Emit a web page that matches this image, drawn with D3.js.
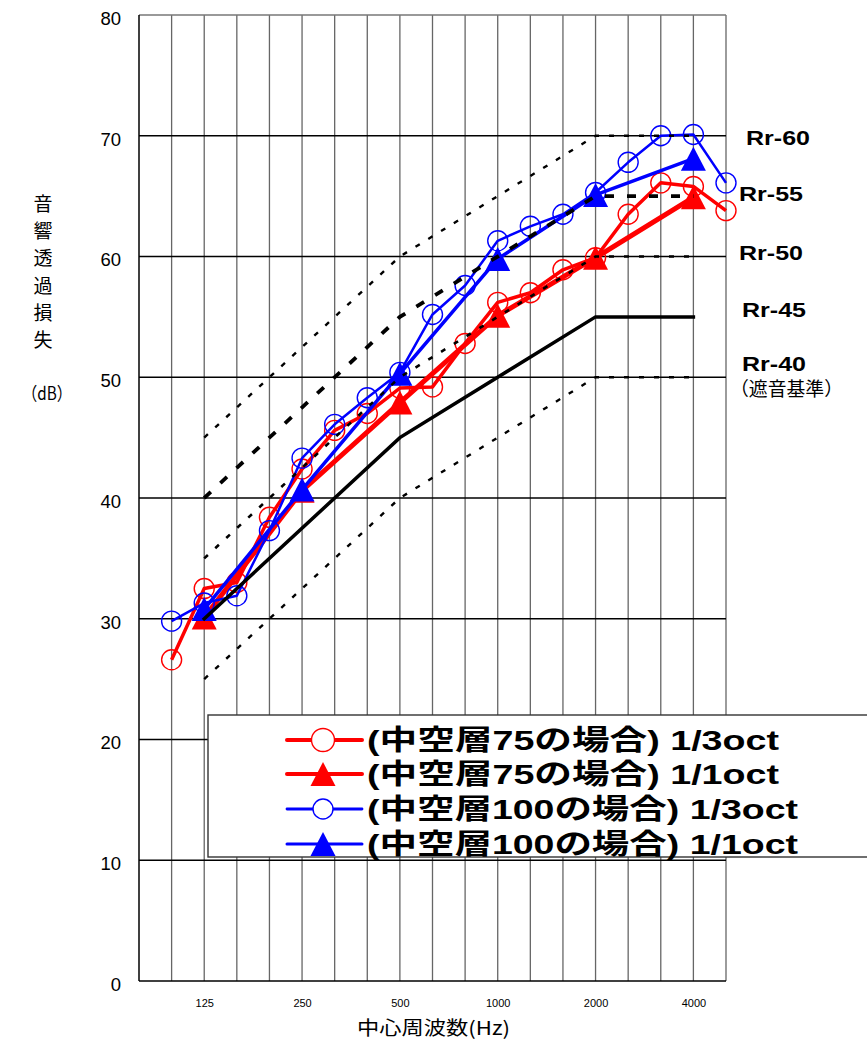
<!DOCTYPE html>
<html>
<head>
<meta charset="utf-8">
<script src="https://cdn.jsdelivr.net/npm/d3@7"></script>
<style>
  body { margin: 0; background: #fff; }
  svg { display: block; }
</style>
</head>
<body>
<div id="chart"></div>
<script>
// 1/3 octave bands (80 is only the left edge of the grid)
const gridBands = ['80', '100', '125', '160', '200', '250', '315', '400', '500', '630', '800', '1000', '1250', '1600', '2000', '2500', '3150', '4000', '5000'];
const bands13 = ['100', '125', '160', '200', '250', '315', '400', '500', '630', '800', '1000', '1250', '1600', '2000', '2500', '3150', '4000', '5000'];
const bands11 = ['125', '250', '500', '1000', '2000', '4000'];
const xTickLabels = ['125', '250', '500', '1000', '2000', '4000'];
const yTicks = [0, 10, 20, 30, 40, 50, 60, 70, 80];

const red13 = [26.6, 32.5, 33.0, 38.4, 42.4, 45.6, 47.0, 49.1, 49.2, 52.8, 56.2, 57.0, 58.9, 59.9, 63.5, 66.1, 65.8, 63.8];
const red11 = [30.1, 40.6, 47.9, 55.1, 59.9, 64.9];
const blue13 = [29.8, 31.3, 31.9, 37.3, 43.3, 46.1, 48.3, 50.4, 55.2, 57.6, 61.3, 62.5, 63.5, 65.3, 67.8, 70.0, 70.1, 66.1];
const blue11 = [30.8, 40.7, 50.3, 59.8, 65.1, 68.1];

// reference curves
const rrBands = ['125', '500', '2000', '4000'];
const rr40 = [25, 40, 50, 50];
const rr45 = [30, 45, 55, 55];
const rr50 = [35, 50, 60, 60];
const rr55 = [40, 55, 65, 65];
const rr60 = [45, 60, 70, 70];
const rrNames = ['Rr-60', 'Rr-55', 'Rr-50', 'Rr-45', 'Rr-40'];

const legendLabels = ['(中空層75の場合) 1/3oct', '(中空層75の場合) 1/1oct', '(中空層100の場合) 1/3oct', '(中空層100の場合) 1/1oct'];

const W = 867, H = 1042;
const jp = '"Noto Sans CJK JP", "Noto Sans", sans-serif';

const svg = d3.select('#chart').append('svg')
        .attr('width', W)
        .attr('height', H);

const x = d3.scalePoint().domain(gridBands).range([139, 726]);
const y = d3.scaleLinear().domain([0, 80]).range([981, 15]);

// grid
svg.append('g').selectAll('line')
        .data(gridBands.slice(1))
        .join('line')
        .attr('x1', d => x(d)).attr('x2', d => x(d))
        .attr('y1', y(80)).attr('y2', y(0))
        .attr('stroke', '#666').attr('stroke-width', 1.3);

svg.append('g').selectAll('line')
        .data(yTicks.filter(d => d > 0 && d < 80))
        .join('line')
        .attr('x1', 139).attr('x2', 726)
        .attr('y1', d => y(d)).attr('y2', d => y(d))
        .attr('stroke', '#000').attr('stroke-width', 1.4);

// top border
svg.append('line')
        .attr('x1', 139).attr('x2', 726)
        .attr('y1', y(80)).attr('y2', y(80))
        .attr('stroke', '#777').attr('stroke-width', 1.5);

// axes lines
svg.append('line')
        .attr('x1', 139).attr('x2', 139)
        .attr('y1', y(80)).attr('y2', y(0))
        .attr('stroke', '#000').attr('stroke-width', 1.5);
svg.append('line')
        .attr('x1', 139).attr('x2', 726)
        .attr('y1', y(0)).attr('y2', y(0))
        .attr('stroke', '#000').attr('stroke-width', 1.5);

// tick labels
const yAxis = svg.append('g')
        .attr('transform', 'translate(139,0)')
        .call(d3.axisLeft(y).tickValues(yTicks).tickSize(0).tickPadding(18));
yAxis.select('.domain').remove();
yAxis.selectAll('text')
        .attr('font-family', '"Liberation Sans", Arial, sans-serif')
        .attr('font-size', 18.5)
        .attr('fill', '#000')
        .attr('dy', '0.5em');

const xAxis = svg.append('g')
        .attr('transform', `translate(0,${y(0)})`)
        .call(d3.axisBottom(x).tickValues(xTickLabels).tickSize(0).tickPadding(18));
xAxis.select('.domain').remove();
xAxis.selectAll('text')
        .attr('font-family', '"Liberation Sans Narrow", "Liberation Sans", Arial, sans-serif')
        .attr('font-size', 11)
        .attr('fill', '#000');

// axis titles
svg.append('text')
        .attr('x', 357).attr('y', 1035)
        .attr('font-family', jp).attr('font-size', 19)
        .attr('textLength', 153)
        .attr('lengthAdjust', 'spacingAndGlyphs')
        .text('中心周波数(Hz)');

const yTitle = '音響透過損失'.split('');
svg.append('g').selectAll('text')
        .data(yTitle)
        .join('text')
        .attr('x', 43)
        .attr('y', (d, i) => 211 + i * 27.2)
        .attr('text-anchor', 'middle')
        .attr('font-family', jp).attr('font-size', 19)
        .text(d => d);
svg.append('text')
        .attr('x', 22).attr('y', 400)
        .attr('font-family', jp).attr('font-size', 18)
        .attr('textLength', 50)
        .attr('lengthAdjust', 'spacingAndGlyphs')
        .text('（dB）');

// data series
const lineGen = (bands) => d3.line()
        .x((d, i) => x(bands[i]))
        .y(d => y(d));

const series = [
        { values: red13, bands: bands13, color: '#ff0000', width: 3.5, marker: 'circle' },
        { values: red11, bands: bands11, color: '#ff0000', width: 5, marker: 'triangle' },
        { values: blue13, bands: bands13, color: '#0000ff', width: 2.5, marker: 'circle' },
        { values: blue11, bands: bands11, color: '#0000ff', width: 3.5, marker: 'triangle' }
];

const triPath = 'M0,-12L12.5,12L-12.5,12Z';

series.forEach(s => {
        svg.append('path')
                .attr('d', lineGen(s.bands)(s.values))
                .attr('fill', 'none')
                .attr('stroke', s.color)
                .attr('stroke-width', s.width)
                .attr('stroke-linejoin', 'round');
        const g = svg.append('g');
        if (s.marker === 'circle') {
                g.selectAll('circle')
                        .data(s.values)
                        .join('circle')
                        .attr('cx', (d, i) => x(s.bands[i]))
                        .attr('cy', d => y(d))
                        .attr('r', 10)
                        .attr('fill', 'none')
                        .attr('stroke', s.color)
                        .attr('stroke-width', 1.4);
        } else {
                g.selectAll('path')
                        .data(s.values)
                        .join('path')
                        .attr('transform', (d, i) => `translate(${x(s.bands[i])},${y(d)})`)
                        .attr('d', triPath)
                        .attr('fill', s.color);
        }
});

// reference curves on top
const rrLine = d3.line()
        .x((d, i) => x(rrBands[i]))
        .y(d => y(d));

const rrStyles = [
        { values: rr40, width: 2.4, dash: '5,10' },
        { values: rr45, width: 3.5, dash: null },
        { values: rr50, width: 2.6, dash: '5,10' },
        { values: rr55, width: 3.8, dash: '9,13' },
        { values: rr60, width: 2.4, dash: '5,10' }
];
rrStyles.forEach(r => {
        svg.append('path')
                .attr('d', rrLine(r.values))
                .attr('fill', 'none')
                .attr('stroke', '#000')
                .attr('stroke-width', r.width)
                .attr('stroke-dasharray', r.dash)
                .attr('stroke-linecap', r.dash ? 'butt' : 'square');
});

// right labels
const rrLabelPos = [[746, 145], [739, 201], [739, 260], [742, 317], [742, 371]];
svg.append('g').selectAll('text')
        .data(rrNames)
        .join('text')
        .attr('x', (d, i) => rrLabelPos[i][0])
        .attr('y', (d, i) => rrLabelPos[i][1])
        .attr('font-family', '"Liberation Sans", Arial, sans-serif')
        .attr('font-weight', 'bold')
        .attr('font-size', 20)
        .attr('textLength', 64)
        .attr('lengthAdjust', 'spacingAndGlyphs')
        .text(d => d);
svg.append('text')
        .attr('x', 730).attr('y', 396)
        .attr('font-family', jp).attr('font-size', 19)
        .attr('textLength', 113)
        .attr('lengthAdjust', 'spacingAndGlyphs')
        .text('（遮音基準）');

// legend
const legend = svg.append('g');
legend.append('rect')
        .attr('x', 208).attr('y', 715)
        .attr('width', 720).attr('height', 142)
        .attr('fill', '#fff')
        .attr('stroke', '#333')
        .attr('stroke-width', 1.4);

const rowY = [740, 774, 809, 844];
const textW = [412, 412, 431, 431];
series.forEach((s, i) => {
        const ly = rowY[i];
        legend.append('line')
                .attr('x1', 287).attr('x2', 362)
                .attr('y1', ly).attr('y2', ly)
                .attr('stroke', s.color)
                .attr('stroke-width', s.marker === 'circle' ? (i === 0 ? 4 : 2.8) : (i === 1 ? 4 : 3))
                .attr('stroke-linecap', 'round');
        if (s.marker === 'circle') {
                legend.append('circle')
                        .attr('cx', 323).attr('cy', ly)
                        .attr('r', i === 0 ? 11.5 : 10)
                        .attr('fill', '#fff')
                        .attr('stroke', s.color)
                        .attr('stroke-width', 1.4);
        } else {
                legend.append('path')
                        .attr('transform', `translate(323,${ly})`)
                        .attr('d', triPath)
                        .attr('fill', s.color);
        }
        legend.append('text')
                .attr('x', 367).attr('y', ly + 10)
                .attr('font-family', '"Liberation Sans", "Noto Sans CJK JP", sans-serif')
                .attr('font-weight', 'bold')
                .attr('font-size', 28)
                .attr('textLength', textW[i])
                .attr('lengthAdjust', 'spacingAndGlyphs')
                .text(legendLabels[i]);
});
</script>
</body>
</html>
